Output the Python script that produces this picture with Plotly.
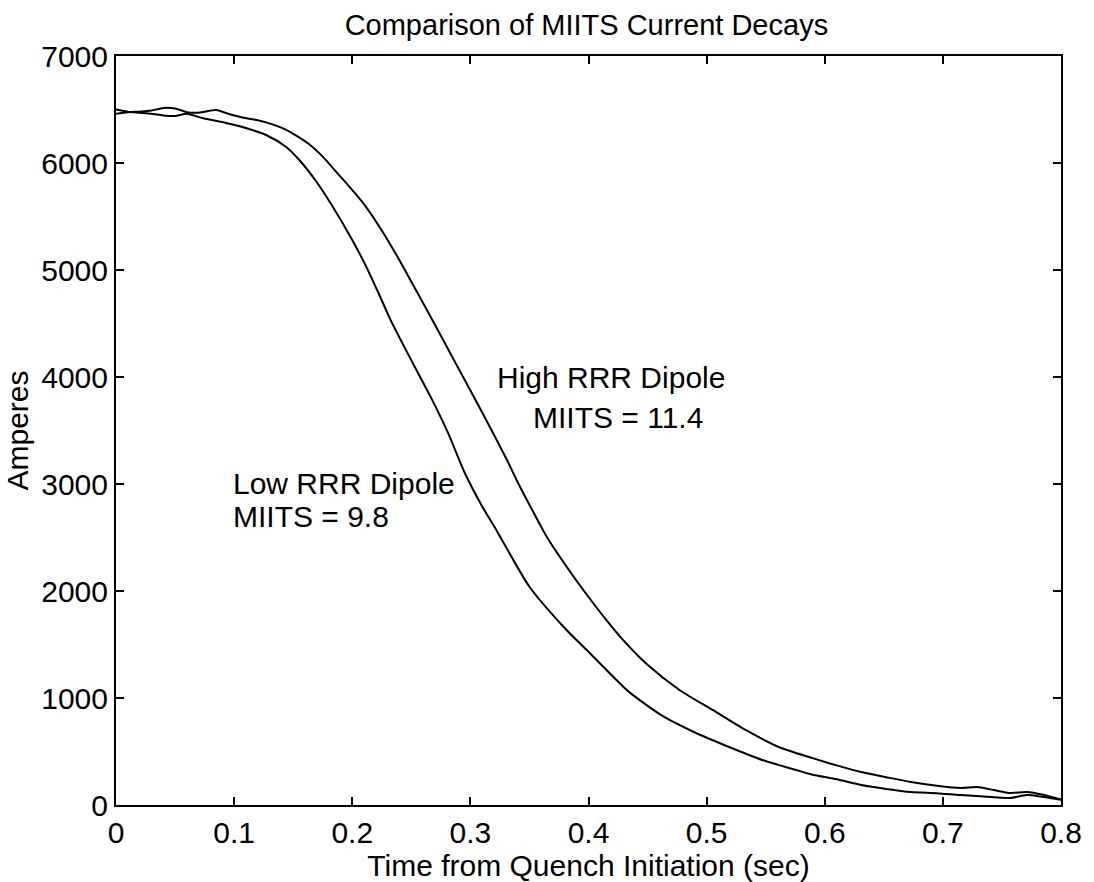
import plotly.graph_objects as go

# High RRR Dipole (MIITS = 11.4)
high_t = [0, 0.01, 0.02, 0.03, 0.04, 0.05, 0.06, 0.07, 0.085, 0.095, 0.107, 0.12, 0.127,
          0.14, 0.149, 0.163, 0.175, 0.187, 0.199, 0.211, 0.225, 0.239, 0.258, 0.267, 0.286,
          0.309, 0.331, 0.339, 0.359, 0.365, 0.387, 0.401, 0.415, 0.429, 0.449, 0.477, 0.505,
          0.533, 0.561, 0.589, 0.61, 0.631, 0.652, 0.673, 0.695, 0.715, 0.729, 0.743, 0.757,
          0.771, 0.785, 0.8]
high_a = [6460, 6475, 6480, 6490, 6515, 6510, 6475, 6470, 6495, 6460, 6425, 6400, 6380,
          6330, 6280, 6180, 6060, 5910, 5760, 5600, 5370, 5110, 4730, 4550, 4160,
          3690, 3224, 3040, 2620, 2500, 2140, 1930, 1730, 1545, 1320, 1075, 888,
          701, 542, 440, 370, 308, 260, 215, 180, 159, 168, 140, 112,
          121, 95, 50]

# Low RRR Dipole (MIITS = 9.8)
low_t = [0, 0.01, 0.02, 0.03, 0.04, 0.05, 0.06, 0.073, 0.093, 0.107, 0.127, 0.144, 0.155,
         0.17, 0.183, 0.2, 0.211, 0.222, 0.233, 0.253, 0.267, 0.281, 0.295, 0.309, 0.323,
         0.35, 0.379, 0.401, 0.429, 0.435, 0.463, 0.491, 0.519, 0.547, 0.575, 0.589, 0.61,
         0.631, 0.652, 0.673, 0.695, 0.715, 0.735, 0.757, 0.771, 0.785, 0.8]
low_a = [6500, 6480, 6470, 6460, 6445, 6440, 6460, 6420, 6374, 6336, 6262, 6150, 6030,
         5820, 5600, 5280, 5050, 4790, 4520, 4093, 3800, 3480, 3110, 2810, 2550,
         2040, 1664, 1420, 1110, 1050, 830, 673, 542, 421, 330, 285, 240,
         187, 150, 121, 110, 93, 80, 65, 93, 75, 50]

x_ticks = [0, 0.1, 0.2, 0.3, 0.4, 0.5, 0.6, 0.7, 0.8]
x_tick_text = ["0", "0.1", "0.2", "0.3", "0.4", "0.5", "0.6", "0.7", "0.8"]
y_ticks = [0, 1000, 2000, 3000, 4000, 5000, 6000, 7000]

FONT = "Liberation Sans, Arial, sans-serif"
FS = 30

fig = go.Figure()
fig.add_trace(go.Scatter(x=high_t, y=high_a, mode="lines",
                         line=dict(color="black", width=2, shape="spline", smoothing=0.7),
                         name="High RRR Dipole"))
fig.add_trace(go.Scatter(x=low_t, y=low_a, mode="lines",
                         line=dict(color="black", width=2, shape="spline", smoothing=0.7),
                         name="Low RRR Dipole"))

fig.add_annotation(x=0.419, y=3991, text="High RRR Dipole", showarrow=False,
                   xanchor="center", yanchor="middle", font=dict(size=FS, color="black", family=FONT))
fig.add_annotation(x=0.425, y=3626, text="MIITS = 11.4", showarrow=False,
                   xanchor="center", yanchor="middle", font=dict(size=FS, color="black", family=FONT))
fig.add_annotation(x=0.097, y=3009, text="Low RRR Dipole", showarrow=False,
                   xanchor="left", yanchor="middle", font=dict(size=FS, color="black", family=FONT))
fig.add_annotation(x=0.097, y=2692, text="MIITS = 9.8", showarrow=False,
                   xanchor="left", yanchor="middle", font=dict(size=FS, color="black", family=FONT))

fig.update_layout(
    width=1094, height=882,
    paper_bgcolor="white", plot_bgcolor="white",
    margin=dict(l=116, r=26, t=56, b=77),
    showlegend=False,
    font=dict(family=FONT, color="black", size=FS),
    title=dict(text="Comparison of MIITS Current Decays", x=0.536, xanchor="center",
               y=1 - 25 / 882, yanchor="middle", font=dict(size=29, family=FONT, color="black")),
)
fig.update_xaxes(range=[0, 0.8], tickvals=x_ticks, ticktext=x_tick_text,
                 ticks="inside", ticklen=8, tickwidth=2, tickcolor="black",
                 showline=True, linecolor="black", linewidth=2, mirror="ticks",
                 showgrid=False, zeroline=False,
                 tickfont=dict(size=FS, family=FONT, color="black"),
                 title=dict(text="Time from Quench Initiation (sec)", standoff=0,
                            font=dict(size=FS, family=FONT, color="black")))
fig.update_yaxes(range=[0, 7000], tickvals=y_ticks,
                 ticks="inside", ticklen=8, tickwidth=2, tickcolor="black",
                 showline=True, linecolor="black", linewidth=2, mirror="ticks",
                 showgrid=False, zeroline=False,
                 tickfont=dict(size=FS, family=FONT, color="black"),
                 title=dict(text="Amperes", standoff=4,
                            font=dict(size=FS, family=FONT, color="black")))

fig.write_html("out.html")
